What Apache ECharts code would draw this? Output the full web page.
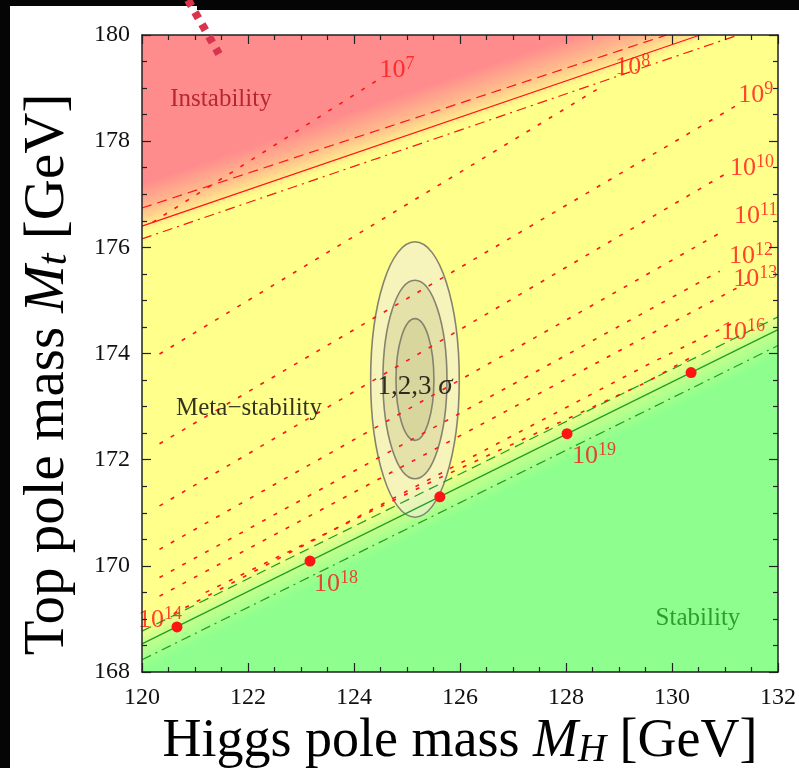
<!DOCTYPE html>
<html>
<head>
<meta charset="utf-8">
<script src="https://cdn.jsdelivr.net/npm/echarts@6/dist/echarts.min.js"></script>
<style>
html, body { margin: 0; padding: 0; background: #fff; }
#main { width: 799px; height: 768px; }
</style>
</head>
<body>
<div id="main"></div>
<script>
// axis ranges (GeV)
var xRange = [120, 132];
var yRange = [168, 180];

// instability boundary: central, +1 sigma (dashed), -1 sigma (dash-dot)
var instabilityLine = [[120, 176.40], [130.53, 180.0]];
var instabilityUpper = [[120, 176.74], [129.90, 180.0]];
var instabilityLower = [[120, 176.16], [131.25, 180.0]];

// stability boundary
var stabilityLine = [[120, 168.53], [132, 174.45]];
var stabilityUpper = [[120, 168.77], [132, 174.69]];
var stabilityLower = [[120, 168.23], [132, 174.15]];

// instability scale contours, 10^n GeV
var scale7 = [[120.20, 176.47], [124.49, 179.18]];
var scale8 = [[120.33, 173.99], [128.61, 178.99]];
var scale9 = [[120.33, 172.30], [131.28, 178.71]];
var scale10 = [[120.33, 171.13], [131.07, 177.42]];
var scale11 = [[120.33, 170.31], [129.44, 175.44], [130.94, 176.29]];
var scale12 = [[120.33, 169.78], [130.90, 175.55]];
var scale13 = [[120.33, 169.43], [131.50, 175.38]];
var scale14 = [[120.60, 169.10], [129.58, 173.81], [131.20, 174.60]];
var scale16 = [[121.20, 169.50], [125.60, 171.65], [129.50, 173.45], [130.40, 173.95]];

// points on the stability line
var stabilityDots = [[120.66, 168.85], [123.17, 170.09], [125.62, 171.30], [128.02, 172.49], [130.36, 173.64]];

// label anchors [Mh, Mt, exponent]
var scaleLabels = [
  [124.81, 179.34, 7], [129.26, 179.40, 8], [131.58, 178.87, 9], [131.51, 177.49, 10],
  [131.58, 176.58, 11], [131.49, 175.83, 12], [131.57, 175.40, 13], [131.34, 174.40, 16],
  [120.34, 168.98, 14], [123.66, 169.66, 18], [128.53, 172.06, 19]
];
var regionNames = ['Instability', 'Meta\u2212stability', 'Stability'];
var regionPos = [[121.49, 178.79], [122.02, 172.96], [130.49, 169.00]];
var regionColors = ['#a50d1a', '#000000', '#17851a'];

// measured Mh, Mt with 1,2,3 sigma ellipses (semi-axes)
var sigmaCenter = [125.15, 173.51];
var sigmaRadii = [[0.836, 2.594], [0.604, 1.870], [0.358, 1.147]];

var serif = 'Liberation Serif';
var red = '#ff1414';
var green = '#1f9e1f';

function lineAt(line, x) {
  var a = line[0], b = line[line.length - 1];
  return a[1] + (b[1] - a[1]) * (x - a[0]) / (b[0] - a[0]);
}

// coloured region beyond a boundary, fading in across it
function fadeBand(api, line, clearOff, fullOff, rgb, above) {
  var x0 = xRange[0], x1 = xRange[1];
  var edge = above ? yRange[1] + 2 : yRange[0] - 2;
  var pts = [
    api.coord([x0, lineAt(line, x0) + clearOff]),
    api.coord([x1, lineAt(line, x1) + clearOff]),
    api.coord([x1, edge]),
    api.coord([x0, edge])
  ];
  var a = api.coord([x0, lineAt(line, x0)]);
  var b = api.coord([x1, lineAt(line, x1)]);
  var dx = b[0] - a[0], dy = b[1] - a[1];
  var len = Math.sqrt(dx * dx + dy * dy);
  var ux = dx / len, uy = dy / len;
  var p0 = api.coord([x0, lineAt(line, x0) + clearOff]);
  var p1 = api.coord([x0, lineAt(line, x0) + fullOff]);
  var vx = p1[0] - p0[0], vy = p1[1] - p0[1];
  var d = vx * ux + vy * uy;
  vx -= d * ux; vy -= d * uy;
  return {
    type: 'polygon',
    shape: { points: pts },
    style: {
      fill: {
        type: 'linear', global: true,
        x: p0[0], y: p0[1], x2: p0[0] + vx, y2: p0[1] + vy,
        colorStops: [
          { offset: 0, color: 'rgba(' + rgb + ',0)' },
          { offset: 0.5, color: 'rgba(' + rgb + ',0.6)' },
          { offset: 1, color: 'rgba(' + rgb + ',1)' }
        ]
      }
    }
  };
}

function renderBands(params, api) {
  var tl = api.coord([xRange[0], yRange[1]]);
  var br = api.coord([xRange[1], yRange[0]]);
  return {
    type: 'group',
    children: [
      { type: 'rect', shape: { x: tl[0], y: tl[1], width: br[0] - tl[0], height: br[1] - tl[1] }, style: { fill: '#ffff8c' } },
      fadeBand(api, instabilityLine, -0.15, 0.8, '255,140,140', true),
      fadeBand(api, stabilityLine, 0.35, -0.5, '142,255,142', false)
    ]
  };
}

var ellipseFills = ['rgba(240,238,215,0.62)', 'rgba(190,185,130,0.3)', 'rgba(190,185,130,0.3)'];

function renderEllipse(params, api) {
  var c = api.coord([api.value(0), api.value(1)]);
  var s = api.size([api.value(2), api.value(3)]);
  return {
    type: 'ellipse',
    shape: { cx: c[0], cy: c[1], rx: s[0], ry: s[1] },
    style: { fill: ellipseFills[params.dataIndex], stroke: '#85836f', lineWidth: 1.6 }
  };
}

function lineSeries(data, color, dash, width) {
  return {
    type: 'line', data: data, showSymbol: false, silent: true, z: 4,
    lineStyle: { color: color, width: width, type: dash }
  };
}

var dotted = [4, 9];
var scaleLines = [scale7, scale8, scale9, scale10, scale11, scale12, scale13, scale14, scale16];

var series = [
  { type: 'custom', renderItem: renderBands, data: [[xRange[0], yRange[0]]], clip: true, silent: true, z: 1 },
  {
    type: 'custom', renderItem: renderEllipse, clip: true, silent: true, z: 2,
    encode: { x: 0, y: 1 },
    data: sigmaRadii.map(function (r) { return [sigmaCenter[0], sigmaCenter[1], r[0], r[1]]; })
  },
  lineSeries(instabilityLine, red, 'solid', 1.2),
  lineSeries(instabilityUpper, red, [10, 6], 1.2),
  lineSeries(instabilityLower, red, [10, 5, 2, 5], 1.2),
  lineSeries(stabilityLine, green, 'solid', 1.2),
  lineSeries(stabilityUpper, green, [10, 6], 1.2),
  lineSeries(stabilityLower, green, [10, 5, 2, 5], 1.2)
];
scaleLines.forEach(function (l) { series.push(lineSeries(l, red, dotted, 1.6)); });

series.push({
  type: 'scatter', data: stabilityDots, symbolSize: 11, z: 6, silent: true,
  itemStyle: { color: red, opacity: 1 }
});
series.push({
  type: 'scatter', data: scaleLabels, symbolSize: 0, z: 7, silent: true,
  label: {
    show: true, position: 'inside',
    formatter: function (p) { return '{b|10}{s|' + p.value[2] + '}'; },
    rich: {
      b: { fontFamily: serif, fontSize: 26, color: red, lineHeight: 30 },
      s: { fontFamily: serif, fontSize: 18, color: red, lineHeight: 14, verticalAlign: 'top' }
    }
  }
});
series.push({
  type: 'scatter', symbolSize: 0, z: 7, silent: true,
  data: regionPos.map(function (p, i) {
    return { value: p, name: regionNames[i], label: { color: regionColors[i] } };
  }),
  label: {
    show: true, position: 'inside', fontFamily: serif, fontSize: 25,
    formatter: function (p) { return p.name; }
  }
});
series.push({
  type: 'scatter', symbolSize: 0, z: 7, silent: true,
  data: [{ value: sigmaCenter, name: '1,2,3' }],
  label: {
    show: true, position: 'inside', offset: [0, 7],
    formatter: '{a|1,2,3 }{b|\u03c3}',
    rich: {
      a: { fontFamily: serif, fontSize: 27, color: '#000' },
      b: { fontFamily: serif, fontSize: 29, fontStyle: 'italic', color: '#000' }
    }
  }
});

function titleRich(size) {
  return {
    a: { fontFamily: serif, fontSize: size, color: '#000', lineHeight: 56 },
    m: { fontFamily: serif, fontSize: size, fontStyle: 'italic', color: '#000', lineHeight: 56 },
    s: { fontFamily: serif, fontSize: Math.round(size * 0.73), fontStyle: 'italic', color: '#000', lineHeight: 20, verticalAlign: 'bottom' }
  };
}

var tickStyle = { color: '#222', width: 1.2 };
function baseAxis(extra) {
  var ax = {
    type: 'value', scale: true, z: 10, splitLine: { show: false },
    axisLine: { show: true, onZero: false, lineStyle: { color: '#222', width: 1.5 } },
    axisTick: { show: true, inside: true, length: 9, lineStyle: tickStyle },
    minorTick: { show: true, splitNumber: 4, length: 5, lineStyle: tickStyle },
    axisLabel: { show: false }
  };
  for (var k in extra) ax[k] = extra[k];
  return ax;
}

var option = {
  animation: false,
  backgroundColor: '#fff',
  grid: { left: 142, right: 21, top: 35, bottom: 96, containLabel: false, outerBoundsMode: 'none' },
  xAxis: [
    baseAxis({
      min: xRange[0], max: xRange[1], interval: 2, position: 'bottom',
      axisLabel: { show: true, fontFamily: serif, fontSize: 24, color: '#111', margin: 14 },
      name: '{a|Higgs pole mass }{m|M}{s|H}{a| [GeV]}', nameLocation: 'middle', nameGap: 34,
      nameTextStyle: { rich: titleRich(54) }
    }),
    baseAxis({ min: xRange[0], max: xRange[1], interval: 2, position: 'top' })
  ],
  yAxis: [
    baseAxis({
      min: yRange[0], max: yRange[1], interval: 2, position: 'left',
      axisLabel: { show: true, fontFamily: serif, fontSize: 24, color: '#111', margin: 12 },
      name: '{a|Top pole mass }{m|M}{s|t}{a| [GeV]}', nameLocation: 'middle', nameGap: 66,
      nameTextStyle: { rich: titleRich(57), padding: [0, 42, 0, 0] }
    }),
    baseAxis({ min: yRange[0], max: yRange[1], interval: 2, position: 'right' })
  ],
  graphic: [
    { type: 'rect', left: 0, top: 0, shape: { width: 10, height: 768 }, style: { fill: '#050505' }, z: 100 },
    { type: 'rect', left: 0, top: 0, shape: { width: 799, height: 6 }, style: { fill: '#050505' }, z: 100 },
    { type: 'rect', left: 197, top: 0, shape: { width: 602, height: 10 }, style: { fill: '#050505' }, z: 100 },
    {
      type: 'line', shape: { x1: 188, y1: 0, x2: 219, y2: 54 }, z: 101,
      style: { stroke: '#d8344d', lineWidth: 8, lineDash: [7, 7] }
    }
  ],
  series: series
};

var chart = echarts.init(document.getElementById('main'));
chart.setOption(option);
</script>
</body>
</html>
